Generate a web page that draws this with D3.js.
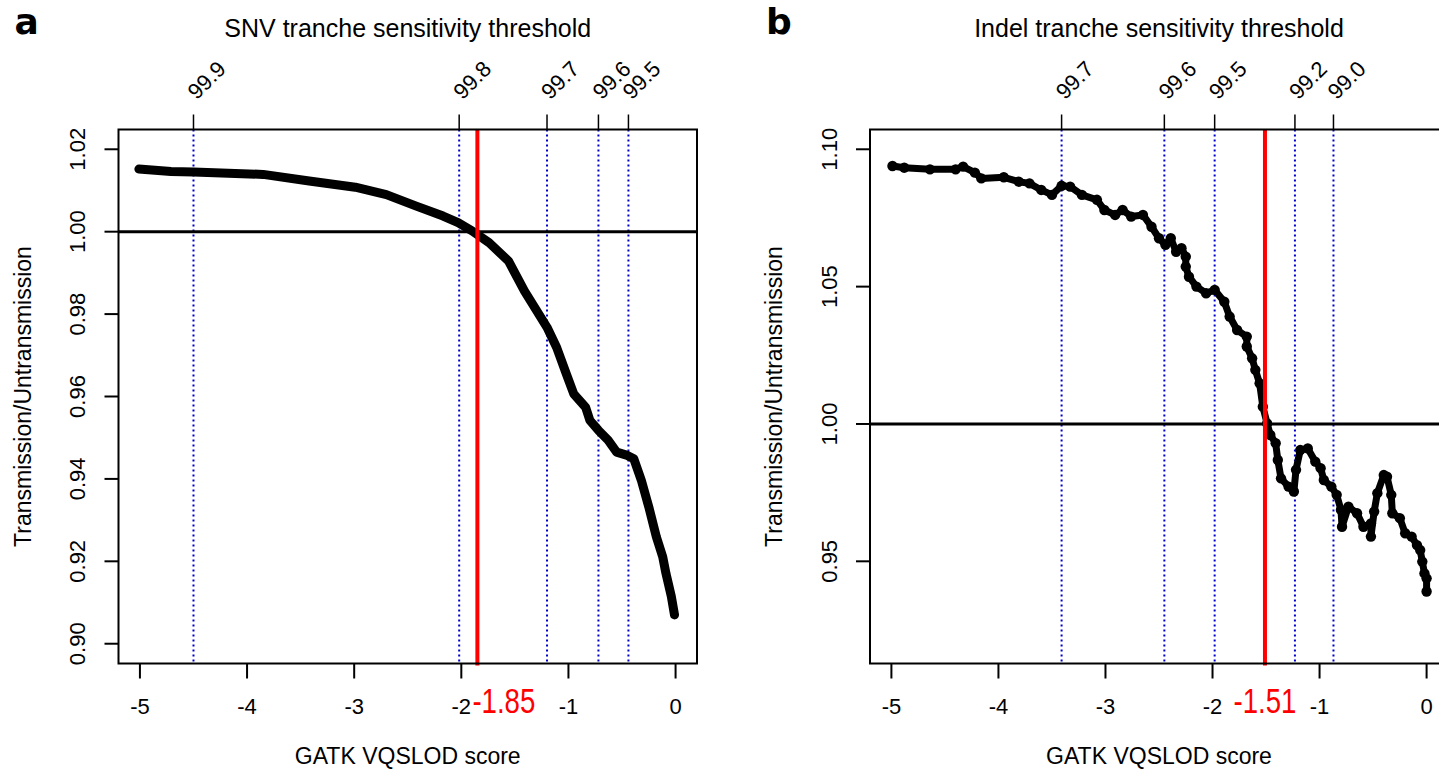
<!DOCTYPE html>
<html>
<head>
<meta http-equiv='Content-Type' content='text/html;charset=utf-8'/>
<title>Tranche sensitivity</title>
<script src='https://d3js.org/d3.v7.min.js'></script>
<style>
body { margin: 0; background: #ffffff; }
svg { display: block; font-family: 'Liberation Sans', Arial, sans-serif; }
</style>
</head>
<body>
<script>
'use strict'

// shared axis values
const xTicks = [-5, -4, -3, -2, -1, 0]

// panel a: SNV
const snvScore = [-5.01, -4.71, -4.50, -3.85, -3.42, -2.99, -2.70, -2.42, -2.17, -2.03, -1.90, -1.74,
  -1.56, -1.41, -1.20, -1.11, -1.02, -0.95, -0.84, -0.80, -0.72, -0.63, -0.55, -0.45, -0.39, -0.32,
  -0.25, -0.18, -0.12, -0.09, -0.04, -0.01]
const snvRatio = [1.0152, 1.0146, 1.0145, 1.0139, 1.0123, 1.0108, 1.0090, 1.0062, 1.0038, 1.0022, 1.0002, 0.9973,
  0.9929, 0.9856, 0.9768, 0.9719, 0.9655, 0.9606, 0.9574, 0.9542, 0.9518, 0.9494, 0.9465, 0.9457, 0.9449, 0.9397,
  0.9332, 0.9260, 0.9211, 0.9171, 0.9115, 0.9070]
const snvYTicks = [0.90, 0.92, 0.94, 0.96, 0.98, 1.00, 1.02]
const snvTrancheScore = [-4.50, -2.02, -1.20, -0.72, -0.44]
const snvTrancheLabel = ['99.9', '99.8', '99.7', '99.6', '99.5']
const snvCutoff = -1.85

// panel b: Indel
const indelScore = [-4.99, -4.88, -4.64, -4.40, -4.33, -4.22, -4.16, -3.95, -3.81, -3.71, -3.60, -3.50,
  -3.41, -3.33, -3.22, -3.08, -3.01, -2.91, -2.84, -2.76, -2.65, -2.57, -2.50, -2.44, -2.39, -2.34,
  -2.29, -2.25, -2.25, -2.22, -2.15, -2.06, -1.98, -1.89, -1.84, -1.77, -1.68, -1.68, -1.63, -1.60,
  -1.56, -1.53, -1.49, -1.46, -1.41, -1.39, -1.36, -1.29, -1.24, -1.22, -1.18, -1.11, -1.04, -0.99,
  -0.96, -0.89, -0.84, -0.80, -0.79, -0.73, -0.65, -0.59, -0.52, -0.52, -0.49, -0.46, -0.40, -0.37,
  -0.33, -0.32, -0.25, -0.20, -0.14, -0.09, -0.06, -0.04, -0.02, 0.00, 0.00]
const indelRatio = [1.0939, 1.0933, 1.0927, 1.0927, 1.0937, 1.0915, 1.0894, 1.0898, 1.0882, 1.0876, 1.0852, 1.0834,
  1.0867, 1.0864, 1.0834, 1.0816, 1.0779, 1.0761, 1.0779, 1.0755, 1.0761, 1.0718, 1.0676, 1.0652, 1.0676, 1.0627,
  1.0640, 1.0609, 1.0573, 1.0536, 1.0500, 1.0476, 1.0488, 1.0445, 1.0391, 1.0342, 1.0318, 1.0282, 1.0239, 1.0197,
  1.0148, 1.0063, 1.0002, 0.9960, 0.9930, 0.9869, 0.9802, 0.9772, 0.9754, 0.9833, 0.9905, 0.9911, 0.9863, 0.9839,
  0.9796, 0.9772, 0.9742, 0.9687, 0.9626, 0.9699, 0.9675, 0.9626, 0.9638, 0.9590, 0.9681, 0.9748, 0.9814, 0.9808,
  0.9742, 0.9675, 0.9657, 0.9602, 0.9590, 0.9559, 0.9541, 0.9499, 0.9456, 0.9438, 0.9390]
const indelYTicks = [0.95, 1.00, 1.05, 1.10]
const indelTrancheScore = [-3.41, -2.45, -1.98, -1.23, -0.87]
const indelTrancheLabel = ['99.7', '99.6', '99.5', '99.2', '99.0']
const indelCutoff = -1.51

const W = 1439, H = 771
const plotTop = 129.5, plotBottom = 663.5

const svg = d3.select('body').append('svg')
  .attr('width', W)
  .attr('height', H)

svg.append('rect')
  .attr('width', W)
  .attr('height', H)
  .attr('fill', '#ffffff')

drawPanel({
  letter: 'a', left: 118.5, right: 697,
  title: 'SNV tranche sensitivity threshold',
  xs: snvScore, ys: snvRatio, yDomain: [0.8952, 1.0248], yTicks: snvYTicks,
  tranches: snvTrancheScore, trancheLabels: snvTrancheLabel, cutoff: snvCutoff,
  cutoffAnchor: 'start', dots: false
})

drawPanel({
  letter: 'b', left: 870, right: 1448,
  title: 'Indel tranche sensitivity threshold',
  xs: indelScore, ys: indelRatio, yDomain: [0.9128, 1.1072], yTicks: indelYTicks,
  tranches: indelTrancheScore, trancheLabels: indelTrancheLabel, cutoff: indelCutoff,
  cutoffAnchor: 'middle', dots: true
})

/**
 * drawPanel
 * One R style base plot: box, axes, tranche lines, cutoff and the ratio curve.
 */
function drawPanel(p)
{
  const g = svg.append('g')
  const x = d3.scaleLinear().domain([-5.2, 0.2]).range([p.left, p.right])
  const y = d3.scaleLinear().domain(p.yDomain).range([plotBottom, plotTop])
  const cx = (p.left + p.right) / 2

  // panel letter and titles
  g.append('text')
    .attr('x', p.left - 104).attr('y', 34)
    .style('font-family', "'DejaVu Sans', sans-serif")
    .style('font-weight', 'bold').style('font-size', '36px')
    .text(p.letter)

  g.append('text')
    .attr('x', cx).attr('y', 37)
    .attr('text-anchor', 'middle')
    .style('font-size', '25px')
    .text(p.title)

  g.append('text')
    .attr('x', cx).attr('y', 764)
    .attr('text-anchor', 'middle')
    .style('font-size', '23px')
    .text('GATK VQSLOD score')

  g.append('text')
    .attr('transform', 'translate(' + (p.left - 96) + ',' + ((plotTop + plotBottom) / 2) + ') rotate(-90)')
    .attr('text-anchor', 'middle')
    .attr('dy', '0.35em')
    .style('font-size', '23px')
    .text('Transmission/Untransmission')

  // tranche lines (blue dotted)
  g.selectAll('.tranche')
    .data(p.tranches)
    .enter().append('line')
    .attr('x1', d => x(d)).attr('x2', d => x(d))
    .attr('y1', plotTop).attr('y2', plotBottom)
    .attr('stroke', '#0000cc')
    .attr('stroke-width', 2)
    .attr('stroke-dasharray', '2,3')

  // top axis: tranche ticks and rotated labels
  g.selectAll('.ttick')
    .data(p.tranches)
    .enter().append('line')
    .attr('x1', d => x(d)).attr('x2', d => x(d))
    .attr('y1', plotTop).attr('y2', plotTop - 15)
    .attr('stroke', '#000').attr('stroke-width', 1.5)

  g.selectAll('.tlabel')
    .data(p.tranches)
    .enter().append('text')
    .attr('transform', d => 'translate(' + (x(d) + 13) + ',80) rotate(-45)')
    .attr('text-anchor', 'middle')
    .attr('dy', '0.35em')
    .style('font-size', '22px')
    .text((d, i) => p.trancheLabels[i])

  // reference line at ratio 1
  g.append('line')
    .attr('x1', p.left).attr('x2', p.right)
    .attr('y1', y(1)).attr('y2', y(1))
    .attr('stroke', '#000').attr('stroke-width', 3)

  // data
  const line = d3.line()
    .x(d => x(d[0]))
    .y(d => y(d[1]))
  const pts = p.xs.map((v, i) => [v, p.ys[i]])

  g.append('path')
    .attr('d', line(pts))
    .attr('fill', 'none')
    .attr('stroke', '#000')
    .attr('stroke-width', p.dots ? 7 : 9)
    .attr('stroke-linecap', 'round')
    .attr('stroke-linejoin', 'round')

  if (p.dots) {
    g.selectAll('.pt')
      .data(pts)
      .enter().append('circle')
      .attr('cx', d => x(d[0]))
      .attr('cy', d => y(d[1]))
      .attr('r', 5.2)
      .attr('fill', '#000')
  }

  // cutoff
  g.append('line')
    .attr('x1', x(p.cutoff)).attr('x2', x(p.cutoff))
    .attr('y1', plotTop).attr('y2', plotBottom + 2)
    .attr('stroke', '#ff0000').attr('stroke-width', 4)

  g.append('text')
    .attr('transform', 'translate(' + (x(p.cutoff) - (p.cutoffAnchor === 'start' ? 5 : 0)) + ',713) scale(0.92,1.15)')
    .attr('text-anchor', p.cutoffAnchor)
    .style('font-size', '30px')
    .attr('fill', '#ff0000')
    .text(String(p.cutoff))

  // box
  g.append('rect')
    .attr('x', p.left).attr('y', plotTop)
    .attr('width', p.right - p.left).attr('height', plotBottom - plotTop)
    .attr('fill', 'none')
    .attr('stroke', '#000').attr('stroke-width', 2)

  // bottom axis
  g.selectAll('.xtick')
    .data(xTicks)
    .enter().append('line')
    .attr('x1', d => x(d)).attr('x2', d => x(d))
    .attr('y1', plotBottom).attr('y2', plotBottom + 15)
    .attr('stroke', '#000').attr('stroke-width', 2)

  g.selectAll('.xlabel')
    .data(xTicks)
    .enter().append('text')
    .attr('x', d => x(d)).attr('y', 714)
    .attr('text-anchor', 'middle')
    .style('font-size', '22px')
    .text(d => String(d))

  // left axis
  g.selectAll('.ytick')
    .data(p.yTicks)
    .enter().append('line')
    .attr('x1', p.left - 14).attr('x2', p.left)
    .attr('y1', d => y(d)).attr('y2', d => y(d))
    .attr('stroke', '#000').attr('stroke-width', 2)

  g.selectAll('.ylabel')
    .data(p.yTicks)
    .enter().append('text')
    .attr('transform', d => 'translate(' + (p.left - 41) + ',' + y(d) + ') rotate(-90)')
    .attr('text-anchor', 'middle')
    .attr('dy', '0.35em')
    .style('font-size', '22px')
    .text(d => d3.format('.2f')(d))
}
</script>
</body>
</html>
